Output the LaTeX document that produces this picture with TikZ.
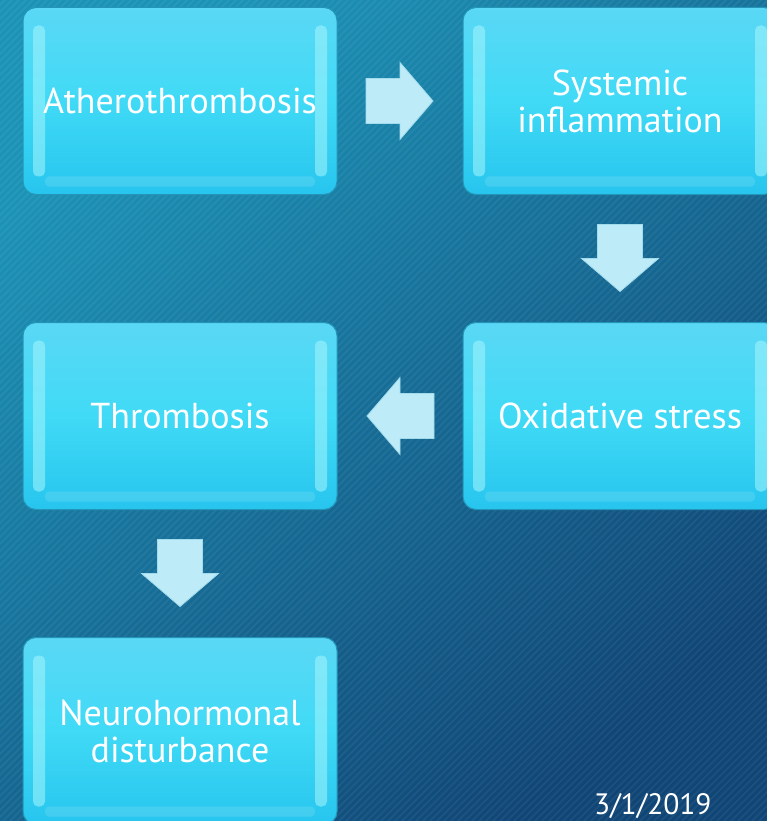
\documentclass[tikz,border=0pt]{standalone}
\usepackage{fontspec}
\setmainfont{PT Sans}
\usetikzlibrary{calc}
\definecolor{bgA}{HTML}{1C93B6}
\definecolor{bgB}{HTML}{104676}
\definecolor{boxTop}{HTML}{5AD8F5}
\definecolor{boxMid}{HTML}{40DAF6}
\definecolor{boxBot}{HTML}{27C5EE}
\definecolor{boxLine}{HTML}{2395B8}
\definecolor{boxHL}{HTML}{A6F6FD}
\definecolor{arrFill}{HTML}{BDEBF8}
\definecolor{arrLine}{HTML}{A2DBEC}
\tikzset{
  hlband/.style={fill=boxHL, opacity=0.55, rounded corners=5pt},
  flowbox/.style={rounded corners=13pt, minimum width=314pt, minimum height=187pt,
    top color=boxTop, bottom color=boxBot, middle color=boxMid, draw=boxLine, line width=1pt,
    text=white, align=center, font=\fontsize{36}{37}\selectfont, inner sep=0pt,
    path picture={
      \fill[hlband]
        ($(path picture bounding box.north west)+(10,18)$) rectangle ($(path picture bounding box.south west)+(22,-18)$);
      \fill[hlband]
        ($(path picture bounding box.north east)+(-22,18)$) rectangle ($(path picture bounding box.south east)+(-10,-18)$);
      \fill[white, opacity=0.12, rounded corners=4pt]
        ($(path picture bounding box.south west)+(22,-18)$) rectangle ($(path picture bounding box.south east)+(-22,-8)$);
    }},
  blk/.style={fill=arrFill, draw=arrLine, line width=0.8pt, line join=miter},
  blockarrow/.pic={\draw[blk] (-34,-22.5) -- (0,-22.5) -- (0,-38.5) -- (33,0) -- (0,38.5) -- (0,22.5) -- (-34,22.5) -- cycle;}
}
\begin{document}
\begin{tikzpicture}[x=1pt,y=-1pt]
\useasboundingbox (0,0) rectangle (767,821);
% background
\fill[top color=bgA, bottom color=bgB, shading angle=40] (0,0) rectangle (767,821);
\begin{scope}
\clip (0,0) rectangle (767,821);
\foreach \i in {-830,-823,...,770} {
  \draw[white, opacity=0.06, line width=1.6pt] (\i,821) -- ({\i+821},0);
}
\end{scope}
% boxes
\node[flowbox] (a) at (180,101) {Atherothrombosis};
\node[flowbox] (b) at (620,101) {Systemic\\inflammation};
\node[flowbox] (c) at (620,416) {Oxidative stress};
\node[flowbox] (d) at (180,416) {Thrombosis};
\node[flowbox] (e) at (180,731) {Neurohormonal\\disturbance};
% block arrows
\coordinate (m1) at ($(a.east)!0.5!(b.west)$);
\coordinate (m2) at ($(b.south)!0.5!(c.north)$);
\coordinate (m3) at ($(c.west)!0.5!(d.east)$);
\coordinate (m4) at ($(d.south)!0.5!(e.north)$);
\pic at (m1) {blockarrow};
\pic[rotate=-90] at (m2) {blockarrow};
\pic[rotate=180] at (m3) {blockarrow};
\pic[rotate=-90] at (m4) {blockarrow};
% date
\node[anchor=base west, text=white, inner sep=0pt, font=\fontsize{29.5}{32}\selectfont] (date) at (594,814) {3/1/2019};
\end{tikzpicture}
\end{document}
